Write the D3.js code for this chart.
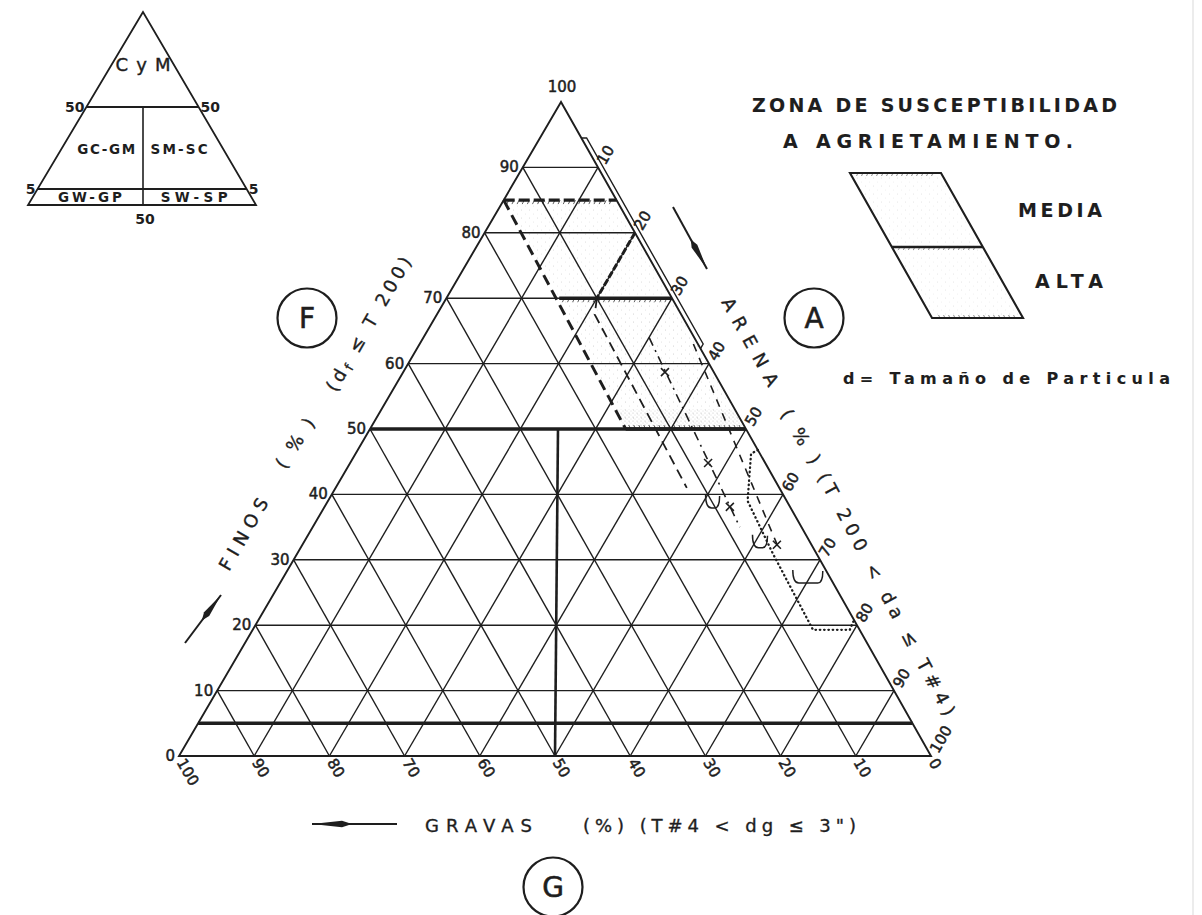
<!DOCTYPE html>
<html>
<head>
<meta charset="utf-8">
<script src="https://cdn.jsdelivr.net/npm/d3@7"></script>
<style>
  html, body { margin: 0; padding: 0; background: #fff; }
  svg { display: block; }
  text { font-family: "DejaVu Sans", sans-serif; fill: #1e1e1e; }
</style>
</head>
<body>
<svg id="chart" width="1202" height="915"></svg>
<script>
// ---- scale values (percent) ----
const finesTicks  = [0, 10, 20, 30, 40, 50, 60, 70, 80, 90, 100];
const gravelTicks = [100, 90, 80, 70, 60, 50, 40, 30, 20, 10, 0];
const sandTicks   = [10, 20, 30, 40, 50, 60, 70, 80, 90, 100];
const gridValues  = [10, 20, 30, 40, 50, 60, 70, 80, 90];

// classification limits: fines % and the gravel = sand split
const finesLimits = [50, 5];
const splitLine   = [[50, 25], [0, 50]];          // [fines, gravel]

// cracking-susceptibility zones, points as [fines, gravel] (sand = rest)
const mediaZone = [[85, 15], [85, 0], [70, 0], [70, 15]];
const altaZone  = [[70, 15], [70, 0], [50, 0], [50, 16]];
const altaBand  = [[53, 16], [53, 0], [50, 0], [50, 16]];

// zone boundaries and test traces
const zoneTopLine   = [[85, 15], [85, 0]];
const zoneLeftLine  = [[85, 15], [50, 16]];
const sandCutLine   = [[80, 0], [70, 10]];
const midLine       = [[70, 15], [70, 0]];
const lowLine       = [[50, 16], [50, 0]];
const edgeStrip     = [[94.5, 0], [94.5, -0.7], [63, -0.7], [62.3, 0]];
const longDashLine  = [[70, 10], [67.5, 11.5], [41, 12.3]];
const crossLineA    = [[64, 6], [35, 8.2]];
const crossMarksA   = [[58.7, 6.5], [44.8, 7.6], [38.1, 8.0]];
const crossLineB    = [[63, 0.6], [32, 4.6]];
const crossMarksB   = [[32.3, 4.6]];
const dottedLine    = [[46.8, 0], [46.2, 1.2], [39, 5.2], [31, 5.8], [19.3, 6.2], [19.3, 1.3], [20.8, 0]];
const bracketPts    = [[38.7, 10], [27.2, 3], [32.6, 6.7]];
const bracketWidths = [14, 30, 15];

// inset classification diagram
const insetLimits = [50, 5];
const insetZones  = [
  { name: "C y M", f: 72, side: 0 },
  { name: "GC-GM", f: 27, side: -1 },
  { name: "SM-SC", f: 27, side: 1 },
  { name: "GW-GP", f: 2.5, side: -1 },
  { name: "SW-SP", f: 2.5, side: 1 }
];

const INK = "#1e1e1e";
const svg = d3.select("#chart");
svg.append("rect").attr("width", 1202).attr("height", 915).attr("fill", "#fff");
svg.append("line").attr("x1", 1193).attr("x2", 1193).attr("y1", 0).attr("y2", 915)
  .attr("stroke", "#ececec").attr("stroke-width", 2);

// ---- stipple pattern for zones ----
const defs = svg.append("defs");
const pat = defs.append("pattern").attr("id", "stipple").attr("patternUnits", "userSpaceOnUse")
  .attr("width", 8).attr("height", 8);
pat.append("circle").attr("cx", 1.5).attr("cy", 2).attr("r", 0.55).attr("fill", "#888");
pat.append("circle").attr("cx", 5.5).attr("cy", 6).attr("r", 0.5).attr("fill", "#aaa");
const pat2 = defs.append("pattern").attr("id", "stippleDense").attr("patternUnits", "userSpaceOnUse")
  .attr("width", 4).attr("height", 4);
pat2.append("circle").attr("cx", 1).attr("cy", 1).attr("r", 0.6).attr("fill", "#777");
pat2.append("circle").attr("cx", 3).attr("cy", 3).attr("r", 0.5).attr("fill", "#999");

// ---- ternary projection: fines up, gravel to the left, sand to the right ----
const yF   = d3.scaleLinear().domain([0, 100]).range([756, 102]);
const xB   = d3.scaleLinear().domain([0, 100]).range([179, 931]);
const lean = d3.scaleLinear().domain([0, 100]).range([0, 6]);
function pt(f, g) { const s = 100 - f - g; return [xB(s + f / 2) + lean(f), yF(f)]; }
const line = d3.line();
const tp = pts => pts.map(d => pt(d[0], d[1]));

const main = svg.append("g");

// zone shading
main.append("path").attr("d", line(tp(mediaZone)) + "Z").attr("fill", "url(#stipple)").attr("opacity", 0.35);
main.append("path").attr("d", line(tp(altaZone)) + "Z").attr("fill", "url(#stipple)").attr("opacity", 0.45);
main.append("path").attr("d", line(tp(altaBand)) + "Z").attr("fill", "url(#stippleDense)").attr("opacity", 0.45);

// triangular grid
const grid = main.append("g").attr("stroke", INK).attr("stroke-width", 1.4).attr("fill", "none");
gridValues.forEach(v => {
  grid.append("path").attr("d", line([pt(v, 100 - v), pt(v, 0)]));       // constant fines
  grid.append("path").attr("d", line([pt(0, v), pt(100 - v, v)]));       // constant gravel
  grid.append("path").attr("d", line([pt(0, 100 - v), pt(100 - v, 0)])); // constant sand
});
main.append("path").attr("d", line([pt(100, 0), pt(0, 100), pt(0, 0)]) + "Z")
  .attr("fill", "none").attr("stroke", INK).attr("stroke-width", 1.9).attr("stroke-linejoin", "miter");

// classification limits
finesLimits.forEach(f => {
  main.append("path").attr("d", line([pt(f, 100 - f), pt(f, 0)]))
    .attr("stroke", INK).attr("stroke-width", 3.4).attr("fill", "none");
});
main.append("path").attr("d", line(tp(splitLine))).attr("stroke", INK).attr("stroke-width", 2.6).attr("fill", "none");

// hatch ticks under a boundary segment
function hatch(p0, p1, step, dx, dy) {
  const L = Math.hypot(p1[0] - p0[0], p1[1] - p0[1]);
  const n = Math.floor(L / step);
  const g = main.append("g").attr("stroke", INK).attr("stroke-width", 1).attr("opacity", 0.7);
  for (let i = 1; i < n; i++) {
    const t = i / n;
    const x = p0[0] + (p1[0] - p0[0]) * t, y = p0[1] + (p1[1] - p0[1]) * t;
    g.append("line").attr("x1", x).attr("y1", y).attr("x2", x + dx).attr("y2", y + dy);
  }
}

// zone boundaries
main.append("path").attr("d", line(tp(zoneTopLine))).attr("stroke", INK).attr("stroke-width", 3.2)
  .attr("stroke-dasharray", "11,4").attr("fill", "none");
hatch(pt(85, 15), pt(85, 0), 5, -2, 4);
main.append("path").attr("d", line(tp(zoneLeftLine))).attr("stroke", INK).attr("stroke-width", 3)
  .attr("stroke-dasharray", "11,6").attr("fill", "none");
main.append("path").attr("d", line(tp(sandCutLine))).attr("stroke", INK).attr("stroke-width", 3)
  .attr("stroke-dasharray", "7,2").attr("fill", "none");
main.append("path").attr("d", line(tp(midLine))).attr("stroke", INK).attr("stroke-width", 3.4).attr("fill", "none");
hatch(pt(70, 15), pt(70, 0), 5, -2, 4);
main.append("path").attr("d", line(tp(lowLine))).attr("stroke", INK).attr("stroke-width", 3.4).attr("fill", "none");
hatch(pt(50, 16), pt(50, 0), 5, -2, -4);

// narrow strip along the sand edge
main.append("path").attr("d", line(tp(edgeStrip))).attr("stroke", INK).attr("stroke-width", 1.4).attr("fill", "none");

// test traces
main.append("path").attr("d", line(tp(longDashLine))).attr("stroke", INK).attr("stroke-width", 1.8)
  .attr("stroke-dasharray", "10,6").attr("fill", "none");
main.append("path").attr("d", line(tp(crossLineA))).attr("stroke", INK).attr("stroke-width", 1.6)
  .attr("stroke-dasharray", "9,5,2,5").attr("fill", "none");
main.append("path").attr("d", line(tp(crossLineB))).attr("stroke", INK).attr("stroke-width", 1.6)
  .attr("stroke-dasharray", "8,7").attr("fill", "none");
main.append("path").attr("d", line(tp(dottedLine))).attr("stroke", INK).attr("stroke-width", 2.3)
  .attr("stroke-dasharray", "0.5,3.8").attr("stroke-linecap", "round").attr("fill", "none");
crossMarksA.concat(crossMarksB).forEach(d => {
  const [x, y] = pt(d[0], d[1]);
  main.append("path").attr("d", `M${x - 4},${y - 4}L${x + 4},${y + 4}M${x + 4},${y - 4}L${x - 4},${y + 4}`)
    .attr("stroke", INK).attr("stroke-width", 1.6);
});
bracketPts.forEach((d, i) => {
  const [x, y] = pt(d[0], d[1]);
  const w = bracketWidths[i] / 2;
  main.append("path")
    .attr("d", `M${x - w},${y - 8} Q${x - w},${y + 5} ${x - w + 6},${y + 5} L${x + w - 5},${y + 5} Q${x + w},${y + 5} ${x + w},${y - 7}`)
    .attr("fill", "none").attr("stroke", INK).attr("stroke-width", 1.5);
});

// ---- tick labels ----
const tickG = main.append("g").attr("font-size", 15).attr("stroke", INK).attr("stroke-width", 0.5);
finesTicks.forEach(f => {
  const [x, y] = pt(f, 100 - f);
  if (f === 100) {
    tickG.append("text").attr("x", x + 1).attr("y", y - 10).attr("text-anchor", "middle").text(f);
  } else {
    tickG.append("text").attr("x", x - 4).attr("y", y + 5).attr("text-anchor", "end").text(f);
  }
});
gravelTicks.forEach(g => {
  const [x, y] = pt(0, g);
  tickG.append("text").attr("transform", `translate(${x},${y}) rotate(60)`)
    .attr("x", 4).attr("dy", "0.36em").text(g);
});
sandTicks.forEach(s => {
  const [x, y] = pt(100 - s, 0);
  tickG.append("text").attr("transform", `translate(${x},${y}) rotate(-60)`)
    .attr("x", 5).attr("dy", "0.36em").text(s);
});

// ---- axis titles ----
function rtext(x, y, angle, str, o = {}) {
  const t = svg.append("text").attr("transform", `translate(${x},${y}) rotate(${angle})`)
    .attr("font-size", o.size || 18).attr("stroke", INK).attr("stroke-width", o.sw ?? 0.35).text(str);
  if (o.len) t.attr("textLength", o.len).attr("lengthAdjust", "spacing");
  if (o.anchor) t.attr("text-anchor", o.anchor);
  if (o.weight) t.attr("font-weight", o.weight);
  return t;
}
// fines (left side)
rtext(229, 572, -60, "FINOS", { len: 80 });
rtext(285, 470, -57, "(%)", { len: 56 });
const dfT = rtext(336, 393, -60, "", { len: 152 });
dfT.append("tspan").text("(d");
dfT.append("tspan").attr("font-size", 13).attr("dy", 3).text("f");
dfT.append("tspan").attr("dy", -3).text(" ≤ T 200)");
// sand (right side)
rtext(721, 302, 61, "ARENA", { len: 98 });
rtext(780, 414, 59, "(%)", { len: 60 });
rtext(817, 477, 62, "(T 200 < da ≤ T#4)", { len: 272 });
// gravel (bottom)
rtext(425, 832, 0, "GRAVAS", { len: 107 });
rtext(583, 832, 0, "(%) (T#4 < dg ≤ 3\")", { len: 273 });

// arrows: long darts
function arrow(x1, y1, x2, y2, headLen, headBack) {
  const L = Math.hypot(x2 - x1, y2 - y1), ux = (x2 - x1) / L, uy = (y2 - y1) / L;
  const nx = -uy, ny = ux;
  svg.append("line").attr("x1", x1).attr("y1", y1).attr("x2", x2).attr("y2", y2)
    .attr("stroke", INK).attr("stroke-width", 2);
  const bx = x2 - ux * headLen, by = y2 - uy * headLen;
  const ex = x2 - ux * headBack, ey = y2 - uy * headBack;
  svg.append("path")
    .attr("d", `M${x2},${y2}L${bx + nx * 3.2},${by + ny * 3.2}L${ex},${ey}L${bx - nx * 3.2},${by - ny * 3.2}Z`)
    .attr("fill", INK);
}
arrow(397, 824, 312, 824, 30, 40);
arrow(673, 207, 707, 269, 26, 34);
arrow(185, 643, 221, 595, 24, 32);

// ---- component circles ----
[[307, 318, "F"], [814, 318, "A"], [553, 887, "G"]].forEach(([cx, cy, s]) => {
  svg.append("circle").attr("cx", cx).attr("cy", cy).attr("r", 29.5)
    .attr("fill", "none").attr("stroke", INK).attr("stroke-width", 2.2);
  svg.append("text").attr("x", cx).attr("y", cy + 10).attr("text-anchor", "middle")
    .attr("font-size", 28).attr("stroke", INK).attr("stroke-width", 0.6).text(s);
});

// ---- legend ----
rtext(752, 112, 0, "ZONA DE SUSCEPTIBILIDAD", { len: 365, weight: "bold", size: 19, sw: 0.1 });
rtext(783, 148, 0, "A AGRIETAMIENTO.", { len: 290, weight: "bold", size: 19, sw: 0.1 });
const legRows = [173, 247, 318];
const legSlope = (931 - 561) / (756 - 102);
const legX = y => 850 + (y - legRows[0]) * legSlope;
const legW = 91;
const legBands = [[legRows[0], legRows[1]], [legRows[1], legRows[2]]];
legBands.forEach(([y0, y1]) => {
  svg.append("path")
    .attr("d", `M${legX(y0)},${y0}L${legX(y0) + legW},${y0}L${legX(y1) + legW},${y1}L${legX(y1)},${y1}Z`)
    .attr("fill", "url(#stipple)").attr("opacity", 0.25).attr("stroke", "none");
});
svg.append("path")
  .attr("d", `M${legX(legRows[0])},${legRows[0]}L${legX(legRows[0]) + legW},${legRows[0]}L${legX(legRows[2]) + legW},${legRows[2]}L${legX(legRows[2])},${legRows[2]}Z`)
  .attr("fill", "none").attr("stroke", INK).attr("stroke-width", 2.1);
svg.append("line").attr("x1", legX(legRows[1])).attr("x2", legX(legRows[1]) + legW)
  .attr("y1", legRows[1]).attr("y2", legRows[1]).attr("stroke", INK).attr("stroke-width", 2.6);
legRows.forEach((y, i) => {
  const g = svg.append("g").attr("stroke", INK).attr("stroke-width", 0.9).attr("opacity", 0.55);
  const dir = i === 2 ? -3 : 3;
  for (let x = legX(y) + 8; x < legX(y) + legW - 4; x += 5) {
    g.append("line").attr("x1", x).attr("y1", y).attr("x2", x - 1.5).attr("y2", y + dir);
  }
});
rtext(1018, 217, 0, "MEDIA", { len: 84, weight: "bold", size: 19, sw: 0.1 });
rtext(1035, 288, 0, "ALTA", { len: 68, weight: "bold", size: 19, sw: 0.1 });
rtext(843, 384, 0, "d= Tamaño de Particula", { len: 327, weight: "bold", size: 16, sw: 0.1 });

// ---- inset classification triangle ----
const inset = svg.append("g");
const iy = d3.scaleLinear().domain([0, 5, 50, 100]).range([205, 189, 107, 12]);
const iApex = [143, 12], iLeft = [28, 205], iRight = [256, 205];
const ixL = d3.scaleLinear().domain([iLeft[1], iApex[1]]).range([iLeft[0], iApex[0]]);
const ixR = d3.scaleLinear().domain([iRight[1], iApex[1]]).range([iRight[0], iApex[0]]);
inset.append("path").attr("d", line([iApex, iLeft, iRight]) + "Z")
  .attr("fill", "none").attr("stroke", INK).attr("stroke-width", 1.8);
insetLimits.forEach(f => {
  const y = iy(f);
  inset.append("line").attr("x1", ixL(y)).attr("x2", ixR(y)).attr("y1", y).attr("y2", y)
    .attr("stroke", INK).attr("stroke-width", 1.8);
  inset.append("text").attr("x", ixL(y) - 2).attr("y", y + 5).attr("text-anchor", "end")
    .attr("font-size", 14).attr("font-weight", "bold").text(f);
  inset.append("text").attr("x", ixR(y) + 2).attr("y", y + 5)
    .attr("font-size", 14).attr("font-weight", "bold").text(f);
});
inset.append("line").attr("x1", iApex[0]).attr("x2", iApex[0]).attr("y1", iy(50)).attr("y2", iy(0))
  .attr("stroke", INK).attr("stroke-width", 1.6);
inset.append("text").attr("x", iApex[0] + 2).attr("y", 224).attr("text-anchor", "middle")
  .attr("font-size", 14).attr("font-weight", "bold").text(50);
const insetLens = { "C y M": 55, "GC-GM": 58, "SM-SC": 57, "GW-GP": 64, "SW-SP": 67 };
insetZones.forEach(z => {
  const y = iy(z.f);
  const xc = z.side === 0 ? iApex[0]
    : z.side < 0 ? (ixL(y) + iApex[0]) / 2 + (z.f < 5 ? 2 : 4)
    : (ixR(y) + iApex[0]) / 2 + (z.f < 5 ? -3 : -4);
  inset.append("text").attr("x", xc).attr("y", y + (z.side === 0 ? 6 : 5)).attr("text-anchor", "middle")
    .attr("font-size", z.side === 0 ? 18 : 13.5).attr("font-weight", z.side === 0 ? "normal" : "bold")
    .attr("stroke", INK).attr("stroke-width", z.side === 0 ? 0.4 : 0)
    .attr("textLength", insetLens[z.name]).attr("lengthAdjust", "spacing")
    .text(z.name);
});
</script>
</body>
</html>
